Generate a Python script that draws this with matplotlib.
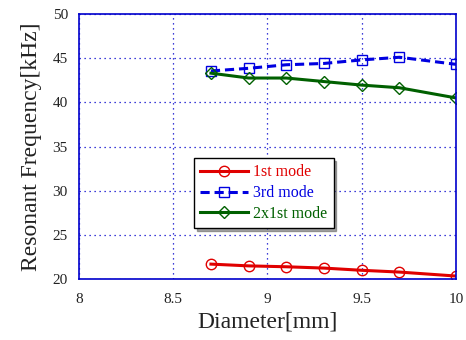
import matplotlib
matplotlib.use("Agg")
import matplotlib.pyplot as plt

diameter = [8.7, 8.9, 9.1, 9.3, 9.5, 9.7, 10.0]
mode1 = [21.7, 21.5, 21.4, 21.25, 21.0, 20.8, 20.35]
mode3 = [43.55, 43.85, 44.25, 44.4, 44.8, 45.1, 44.3]
mode2x1 = [43.3, 42.75, 42.75, 42.35, 41.95, 41.65, 40.5]

xticks = [8, 8.5, 9, 9.5, 10]
xticklabels = ["8", "8.5", "9", "9.5", "10"]
yticks = [20, 25, 30, 35, 40, 45, 50]

plt.rcParams['font.family'] = ['Liberation Serif', 'DejaVu Serif']

fig = plt.figure(figsize=(4.66, 3.40), dpi=100)
ax = fig.add_axes([0.1695, 0.179, 0.809, 0.78])

ax.plot(diameter, mode1, color='#e00000', lw=2.2, marker='o', ms=7.5,
        mfc='none', mec='#e00000', mew=1.0, label='1st mode')
ax.plot(diameter, mode3, color='#0000e0', lw=2.2, ls=(0, (3, 1.6)), marker='s', ms=7.5,
        mfc='none', mec='#0000e0', mew=1.0, label='3rd mode')
ax.plot(diameter, mode2x1, color='#006000', lw=2.2, marker='D', ms=6,
        mfc='none', mec='#006000', mew=1.0, label='2x1st mode')

ax.set_xlim(8, 10)
ax.set_ylim(20, 50)
ax.set_xticks(xticks)
ax.set_xticklabels(xticklabels)
ax.set_yticks(yticks)
ax.grid(True, color='#0000cc', ls=(0, (1, 3)), lw=0.9)
for s in ax.spines.values():
    s.set_color('#0000cc')
    s.set_linewidth(1.2)
ax.tick_params(axis='both', direction='in', colors='#0000cc', labelcolor='#222222',
               labelsize=11, length=0)
ax.tick_params(axis='y', pad=8)
ax.tick_params(axis='x', pad=10)
ax.set_xlabel('Diameter[mm]', fontsize=17, color='#222222', labelpad=4)
ax.set_ylabel('Resonant Frequency[kHz]', fontsize=17, color='#222222', labelpad=8)

leg = ax.legend(loc='upper left', bbox_to_anchor=(0.305, 0.457), fontsize=11.5,
                frameon=True, fancybox=False, shadow=True, edgecolor='black',
                handlelength=3.0, borderpad=0.4, labelspacing=0.3, handletextpad=0.3,
                borderaxespad=0)
leg.get_frame().set_linewidth(1.0)
for t, c in zip(leg.get_texts(), ['#e00000', '#0000e0', '#006000']):
    t.set_color(c)

fig.savefig('out.png', dpi=100)
